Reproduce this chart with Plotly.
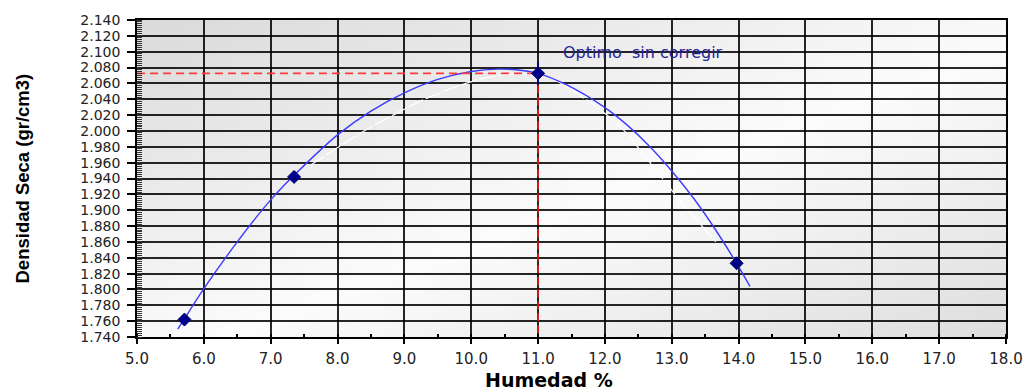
import base64
import struct
import zlib

import numpy as np
import plotly.graph_objects as go

# ---------------- data ----------------
humedad = [5.71, 7.35, 11.0, 13.97]            # measured points, x
densidad = [1.762, 1.942, 2.0727, 1.833]       # measured points, y

curve_x = [5.61, 5.71, 6.0, 6.5, 7.0, 7.35, 8.0, 8.5, 9.0, 9.5, 10.0, 10.4,
           10.7, 11.0, 11.43, 12.0, 12.33, 12.67, 13.0, 13.34, 13.61, 13.97, 14.17]
curve_y = [1.750, 1.763, 1.801, 1.860, 1.913, 1.944, 1.995, 2.025, 2.048, 2.065,
           2.075, 2.078, 2.077, 2.0727, 2.058, 2.0295, 2.0077, 1.9805, 1.9495,
           1.9135, 1.881, 1.833, 1.804]

corr_x = [7.60, 8.02, 8.36, 8.81, 9.25, 9.85, 10.34, 10.80, 11.10, 11.73, 12.03,
          12.28, 12.47, 13.24, 13.44, 13.66]
corr_y = [1.957, 1.980, 1.998, 2.019, 2.038, 2.058, 2.0690, 2.072, 2.070, 2.039,
          2.020, 2.001, 1.982, 1.900, 1.881, 1.860]

opt_x = 11.0
opt_y = 2.0727
opt_label = "Optimo  sin corregir"

x_min, x_max = 5.0, 18.0
y_min, y_max = 1.74, 2.14
x_title = "Humedad %"
y_title = "Densidad Seca (gr/cm3)"

# ---------------- background gradient image ----------------
W, H = 876, 318
u = np.linspace(0, 1, W)[None, :]
v = np.linspace(1, 0, H)[:, None]
t = (u + (1 - v)) / 2.0
t0 = 0.55
val = np.where(t < t0, 252 - 34 * (t0 - t) / t0, 252 - 30 * (t - t0) / (1 - t0))
arr = np.clip(val, 0, 255).astype(np.uint8)


def make_png(a):
    h, w = a.shape
    raw = b"".join(b"\x00" + a[i].tobytes() for i in range(h))

    def chunk(tag, data):
        c = struct.pack(">I", len(data)) + tag + data
        return c + struct.pack(">I", zlib.crc32(tag + data) & 0xFFFFFFFF)

    png = (b"\x89PNG\r\n\x1a\n"
           + chunk(b"IHDR", struct.pack(">IIBBBBB", w, h, 8, 0, 0, 0, 0))
           + chunk(b"IDAT", zlib.compress(raw, 9))
           + chunk(b"IEND", b""))
    return "data:image/png;base64," + base64.b64encode(png).decode()


bg_uri = make_png(arr)

# ---------------- figure ----------------
fig = go.Figure()

fig.add_trace(go.Scatter(
    x=corr_x, y=corr_y, mode="lines", line_shape="spline",
    line=dict(color="rgba(255,255,255,0.95)", width=1.3, dash="16px,3px"),
    hoverinfo="skip", showlegend=False))

fig.add_trace(go.Scatter(
    x=curve_x, y=curve_y, mode="lines", line_shape="spline",
    line=dict(color="#3b3bff", width=1.4),
    hoverinfo="skip", showlegend=False))

fig.add_trace(go.Scatter(
    x=[x_min, opt_x], y=[opt_y, opt_y], mode="lines",
    line=dict(color="#ff3c3c", width=1.9, dash="8px,5px"),
    hoverinfo="skip", showlegend=False))

fig.add_trace(go.Scatter(
    x=[opt_x, opt_x], y=[opt_y, y_min], mode="lines",
    line=dict(color="#e31a1a", width=1.7, dash="8px,4px"),
    hoverinfo="skip", showlegend=False))

fig.add_trace(go.Scatter(
    x=[opt_x], y=[opt_y], mode="markers",
    marker=dict(symbol="line-ns", size=16, line=dict(color="#00008b", width=1.6)),
    hoverinfo="skip", showlegend=False))

fig.add_trace(go.Scatter(
    x=humedad, y=densidad, mode="markers",
    marker=dict(symbol="diamond", size=10, color="#00008b",
                line=dict(color="#00006a", width=1)),
    showlegend=False))

fig.add_annotation(
    x=11.35, y=2.0987, xref="x", yref="y", text=opt_label, showarrow=False,
    xanchor="left", yanchor="middle",
    font=dict(family="DejaVu Sans", size=16, color="#22229a"))

fig.add_annotation(
    x=0, y=0.5, xref="paper", yref="paper", text=y_title, showarrow=False,
    textangle=-90, xanchor="center", yanchor="middle", xshift=-115,
    font=dict(family="Liberation Sans, Arial", size=18.5, color="#000000",
              weight="bold"))

fig.add_annotation(
    x=0.474, y=0, xref="paper", yref="paper", text=x_title, showarrow=False,
    xanchor="center", yanchor="middle", yshift=-43,
    font=dict(family="DejaVu Sans", size=19, color="#000000", weight="bold"))

fig.add_layout_image(dict(
    source=bg_uri, xref="paper", yref="paper", x=0, y=1, sizex=1, sizey=1,
    xanchor="left", yanchor="top", sizing="stretch", layer="below"))

fig.update_xaxes(
    range=[x_min, x_max], dtick=1.0, tick0=5.0, tickformat=".1f",
    showgrid=True, gridcolor="rgba(0,0,0,0.85)", gridwidth=1.6,
    showline=True, linecolor="#000000", linewidth=1.6, mirror=True,
    ticks="outside", ticklen=5, tickcolor="#000000", tickwidth=1.5,
    minor=dict(dtick=0.5, ticks="inside", ticklen=3, tickcolor="#000000",
               tickwidth=1.5, showgrid=False),
    tickfont=dict(family="DejaVu Sans", size=15, color="#222222"),
    zeroline=False, ticklabelstandoff=2)

fig.update_yaxes(
    range=[y_min, y_max], dtick=0.02, tick0=1.74, tickformat=".3f",
    showgrid=True, gridcolor="rgba(0,0,0,0.85)", gridwidth=1.6,
    showline=True, linecolor="#000000", linewidth=1.6, mirror=True,
    ticks="outside", ticklen=8, tickcolor="#000000", tickwidth=1.5,
    minor=dict(dtick=0.0025, ticks="inside", ticklen=5, tickcolor="#333333",
               tickwidth=1, showgrid=False),
    tickfont=dict(family="DejaVu Sans", size=14, color="#222222"),
    zeroline=False, ticklabelstandoff=4)

fig.update_layout(
    width=1035, height=392,
    margin=dict(l=137, r=23, t=20, b=55),
    paper_bgcolor="#ffffff", plot_bgcolor="rgba(0,0,0,0)",
    showlegend=False,
    font=dict(family="Liberation Sans, Arial", color="#000000"))

fig.write_html("out.html", config={"displayModeBar": False},
               post_script="document.body.style.margin='0';document.body.style.overflow='hidden';")
